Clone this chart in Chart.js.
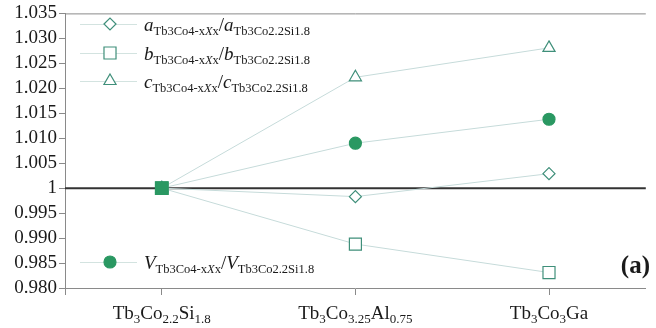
<!DOCTYPE html>
<html>
<head>
<meta charset="utf-8">
<script src="https://cdn.jsdelivr.net/npm/chart.js@4"></script>
<style>
  html, body { margin: 0; padding: 0; background: #fff; }
  #wrap { width: 656px; height: 328px; }
</style>
</head>
<body>
<div id="wrap"><canvas id="chart" width="656" height="328"></canvas></div>
<script>
// — data —
const categories = ['Tb3Co2.2Si1.8', 'Tb3Co3.25Al0.75', 'Tb3Co3Ga'];
const aRatio = [1, 0.9983, 1.0029];
const bRatio = [1, 0.9888, 0.9831];
const cRatio = [1, 1.0222, 1.0281];
const vRatio = [1, 1.0090, 1.0138];
const yTicks = [0.980, 0.985, 0.990, 0.995, 1, 1.005, 1.010, 1.015, 1.020, 1.025, 1.030, 1.035];

// label pieces: [text, style]  ('' normal, 's' subscript, 'i' italic, 'si' italic subscript)
const categoryParts = [
  [['Tb', ''], ['3', 's'], ['Co', ''], ['2.2', 's'], ['Si', ''], ['1.8', 's']],
  [['Tb', ''], ['3', 's'], ['Co', ''], ['3.25', 's'], ['Al', ''], ['0.75', 's']],
  [['Tb', ''], ['3', 's'], ['Co', ''], ['3', 's'], ['Ga', '']]
];
const ratioParts = sym => [[sym, 'i'], ['Tb3Co4-x', 's'], ['X', 'si'], ['x', 's'], ['/', ''], [sym, 'i'], ['Tb3Co2.2Si1.8', 's']];
const legendParts = [ratioParts('a'), ratioParts('b'), ratioParts('c'), ratioParts('V')];

const SERIF = '"Liberation Serif", "DejaVu Serif", serif';
const hollow = '#3f8f7a';
const filled = '#2a9862';
const thinLine = '#c6dbda';
const axisGrey = '#8a8a8a';

function fontFor(style, size, subSize) {
  const sub = style.includes('s');
  const it = style.includes('i');
  return `${it ? 'italic ' : ''}${sub ? subSize : size}px ${SERIF}`;
}

// draws text made of pieces, subscripts lowered
function drawRich(ctx, parts, x, y, align, subSize = 13) {
  const size = 19;
  let w = 0;
  parts.forEach(([t, s]) => { ctx.font = fontFor(s, size, subSize); w += ctx.measureText(t).width; });
  let cx = align === 'center' ? x - w / 2 : x;
  ctx.textAlign = 'left';
  ctx.textBaseline = 'alphabetic';
  parts.forEach(([t, s]) => {
    ctx.font = fontFor(s, size, subSize);
    ctx.fillText(t, cx, y + (s.includes('s') ? 4 : 0));
    cx += ctx.measureText(t).width;
  });
}

const styles = [
  { pointStyle: 'rectRot', radius: 6 },
  { pointStyle: 'rect', radius: 8.5 },
  { pointStyle: 'triangle', radius: 7 },
  { pointStyle: 'circle', radius: 6 }
];

const framePlugin = {
  id: 'frame',
  beforeDatasetsDraw(chart) {
    const { ctx, chartArea: a, scales: { y } } = chart;
    ctx.save();
    // top border + left tick extension
    ctx.strokeStyle = axisGrey;
    ctx.lineWidth = 1;
    ctx.beginPath();
    ctx.moveTo(a.left, a.top + 0.5);
    ctx.lineTo(a.right, a.top + 0.5);
    ctx.moveTo(a.left + 0.5, a.bottom);
    ctx.lineTo(a.left + 0.5, a.bottom + 7);
    ctx.stroke();
    // reference line at 1
    const y1 = y.getPixelForValue(1);
    ctx.strokeStyle = '#333';
    ctx.lineWidth = 2;
    ctx.beginPath();
    ctx.moveTo(a.left, y1);
    ctx.lineTo(a.right, y1);
    ctx.stroke();
    ctx.restore();
  },
  afterDraw(chart) {
    const { ctx, scales: { x } } = chart;
    ctx.save();
    ctx.fillStyle = '#1a1a1a';
    // category labels with subscripts
    categoryParts.forEach((parts, i) => {
      drawRich(ctx, parts, x.getPixelForTick(i), 319, 'center');
    });
    // legend
    const rows = [24, 53, 81, 262];
    legendParts.forEach((parts, i) => {
      const yy = rows[i];
      ctx.strokeStyle = '#d3e3e0';
      ctx.lineWidth = 1;
      ctx.beginPath();
      ctx.moveTo(80, yy + 0.5);
      ctx.lineTo(137, yy + 0.5);
      ctx.stroke();
      const isFilled = i === 3;
      ctx.fillStyle = isFilled ? filled : '#fff';
      ctx.strokeStyle = isFilled ? filled : hollow;
      ctx.lineWidth = 1.2;
      Chart.helpers.drawPoint(ctx, { pointStyle: styles[i].pointStyle, radius: styles[i].radius, rotation: 0, borderWidth: 1.2 }, 110, yy);
      ctx.fillStyle = '#1a1a1a';
      drawRich(ctx, parts, 144, yy + 7, 'left', 12.5);
    });
    // panel tag
    ctx.font = `bold 25px ${SERIF}`;
    ctx.textAlign = 'right';
    ctx.fillText('(a)', 650, 273);
    ctx.restore();
  }
};

function series(label, values, i) {
  const s = styles[i];
  const isFilled = i === 3;
  return {
    label,
    data: values,
    order: isFilled ? -1 : i,
    borderColor: thinLine,
    borderWidth: 1,
    tension: 0,
    pointStyle: isFilled ? ['rect', 'circle', 'circle'] : s.pointStyle,
    pointRadius: isFilled ? [9, 6, 6] : s.radius,
    pointHoverRadius: isFilled ? [9, 6, 6] : s.radius,
    pointBackgroundColor: isFilled ? filled : '#fff',
    pointBorderColor: isFilled ? filled : hollow,
    pointBorderWidth: 1.2
  };
}

new Chart(document.getElementById('chart'), {
  type: 'line',
  data: {
    labels: categories,
    datasets: [
      series('a ratio', aRatio, 0),
      series('b ratio', bRatio, 1),
      series('c ratio', cRatio, 2),
      series('V ratio', vRatio, 3)
    ]
  },
  options: {
    responsive: false,
    animation: false,
    layout: { padding: { top: 13, right: 0, left: 0, bottom: 0 } },
    scales: {
      x: {
        type: 'category',
        offset: true,
        grid: { drawOnChartArea: false, drawTicks: true, tickLength: 7, color: axisGrey, offset: false },
        border: { display: true, color: axisGrey, width: 1 },
        ticks: { display: false },
        afterFit(scale) { scale.height = 40; }
      },
      y: {
        min: 0.98,
        max: 1.035,
        afterBuildTicks(scale) { scale.ticks = yTicks.map(v => ({ value: v })); },
        grid: { drawOnChartArea: false, drawTicks: true, tickLength: 6, color: axisGrey },
        border: { display: true, color: axisGrey, width: 1 },
        ticks: {
          autoSkip: false,
          padding: 2,
          color: '#1a1a1a',
          font: { family: SERIF, size: 19 },
          callback: v => (Math.abs(v - 1) < 1e-9 ? '1' : v.toFixed(3))
        },
        afterFit(scale) { scale.width = 65; }
      }
    },
    plugins: {
      legend: { display: false },
      tooltip: { enabled: false }
    }
  },
  plugins: [framePlugin]
});
</script>
</body>
</html>
